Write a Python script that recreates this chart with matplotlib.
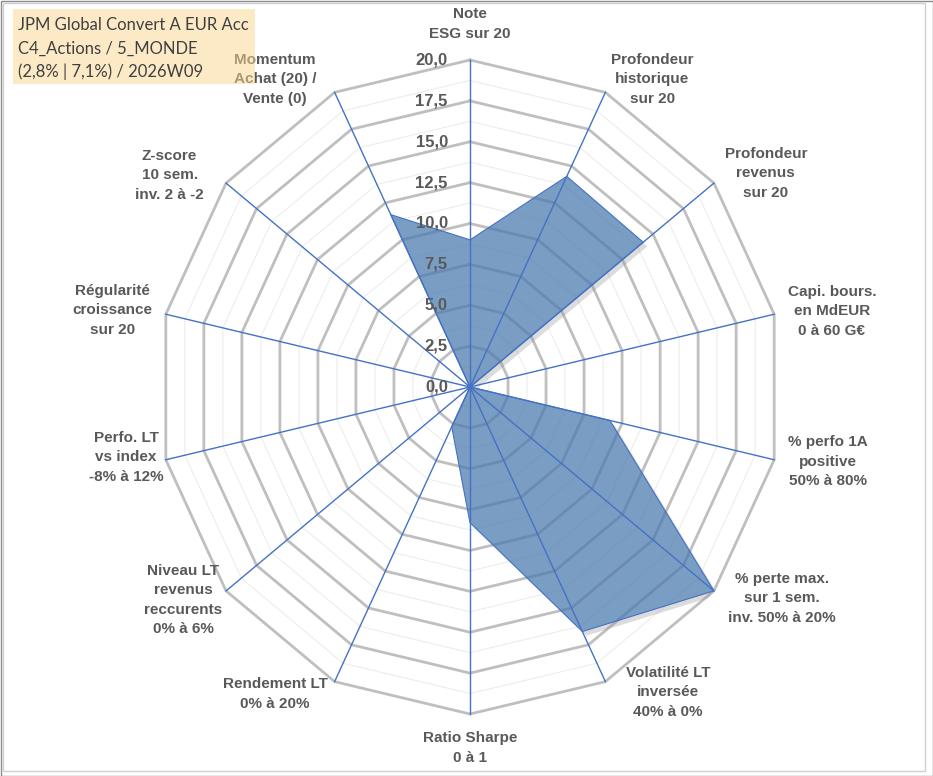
import numpy as np
import matplotlib.pyplot as plt
import matplotlib.patheffects as pe
from matplotlib.patches import Rectangle

# axes of the radar, clockwise from the top
categories = ["Note\nESG sur 20", "Profondeur\nhistorique\nsur 20", "Profondeur\nrevenus\nsur 20",
              "Capi. bours.\nen MdEUR\n0 à 60 G€", "% perfo 1A\npositive\n50% à 80%",
              "% perte max.\nsur 1 sem.\ninv. 50% à 20%", "Volatilité LT\ninversée\n40% à 0%",
              "Ratio Sharpe\n0 à 1", "Rendement LT\n0% à 20%",
              "Niveau LT\nrevenus\nreccurents\n0% à 6%", "Perfo. LT\nvs index\n-8% à 12%",
              "Régularité\ncroissance\nsur 20", "Z-score\n10 sem.\ninv. 2 à -2",
              "Momentum\nAchat (20) /\nVente (0)"]
scores = [9.0, 14.3, 14.2, 0.0, 9.2, 20.0, 16.6, 8.3, 2.7, 0.0, 0.0, 0.0, 0.0, 11.7]
ticks = [0.0, 2.5, 5.0, 7.5, 10.0, 12.5, 15.0, 17.5, 20.0]
title_lines = ["JPM Global Convert A EUR Acc", "C4_Actions / 5_MONDE", "(2,8% | 7,1%) / 2026W09"]

# where the category labels sit (angle in degrees, radius as fraction of max)
label_layout = [(0, 1.11), (31.8, 1.108), (55.4, 1.152), (78.7, 1.183), (101.3, 1.17),
                (122.9, 1.19), (145.8, 1.128), (180, 1.104), (213.6, 1.128), (234.7, 1.127),
                (259, 1.123), (281.6, 1.171), (303.9, 1.16), (326.4, 1.13)]

W, H = 933, 776
rmax = 20.0
n = len(categories)
theta = np.arange(n) * 2 * np.pi / n
theta_c = np.append(theta, theta[0])

fig = plt.figure(figsize=(W / 100, H / 100), dpi=100)
fig.patch.set_facecolor('white')
ax = fig.add_axes([158 / W, 62 / H, 624 / W, 654 / H], projection='polar')
ax.set_aspect('auto')
ax.set_theta_zero_location('N')
ax.set_theta_direction(-1)
ax.set_ylim(0, rmax)
ax.grid(False)
ax.set_xticks([])
ax.set_yticks([])
ax.spines['polar'].set_visible(False)
ax.patch.set_visible(False)

rings = np.arange(1.25, rmax + 0.01, 1.25)
is_major = [abs(r / 2.5 - round(r / 2.5)) < 1e-6 for r in rings]

# polygon grid: thin minor rings every 1.25, thick ones every 2.5
for r, major in zip(rings, is_major):
    ax.plot(theta_c, [r] * (n + 1), color='#BFBFBF' if major else '#EDEDED',
            lw=2.0 if major else 0.8, zorder=1 if major else 0.5, clip_on=False,
            solid_joinstyle='miter')

vals = np.append(scores, scores[0])
poly = ax.fill(theta_c, vals, facecolor='#7A9DC4', zorder=2, lw=0,
               path_effects=[pe.SimplePatchShadow(offset=(3, -3), shadow_rgbFace='#8C8C8C', alpha=0.3),
                             pe.Normal()])[0]

# grid seen through the (semi transparent) series fill
for r, major in zip(rings, is_major):
    ln, = ax.plot(theta_c, [r] * (n + 1), color='#6A8CB3' if major else '#7799C0',
                  lw=2.0 if major else 0.8, zorder=2.5, solid_joinstyle='miter')
    ln.set_clip_path(poly)

ax.plot(theta_c, vals, color='#4472C4', lw=0.8, zorder=3, clip_on=False)

for t in theta:
    ax.plot([t, t], [0, rmax], color='#4472C4', lw=1.0, zorder=4, clip_on=False)

for v in ticks:
    ax.annotate(f"{v:.1f}".replace('.', ','), xy=(0, v), xytext=(-16, 0),
                textcoords='offset points', ha='right', va='center',
                fontsize=12, fontweight='bold', color='#595959',
                family='Liberation Sans', zorder=5, annotation_clip=False)

for lab, (a, f) in zip(categories, label_layout):
    ax.text(np.deg2rad(a), f * rmax, lab, ha='center', va='center', multialignment='center',
            fontsize=11, fontweight='bold', color='#595959', family='Liberation Sans',
            linespacing=1.5, clip_on=False, zorder=5)

# title box (semi transparent, over the chart)
fig.add_artist(Rectangle((13 / W, 1 - 84 / H), 242 / W, 75 / H, transform=fig.transFigure,
                         facecolor='#FBD78E', alpha=0.5, edgecolor='none', zorder=10))
for i, line in enumerate(title_lines):
    fig.text(18 / W, 1 - (25 + 23.5 * i) / H, line, ha='left', va='center', fontsize=12,
             family='Lato', color='#404040', zorder=11)

# chart area frame
fig.add_artist(Rectangle((2.5 / W, 5.5 / H), 922 / W, 768 / H, transform=fig.transFigure,
                         facecolor='none', edgecolor='#D0D0D0', lw=1.0, zorder=12))
fig.add_artist(Rectangle((0.5 / W, 0.5 / H), (W - 1) / W, (H - 1) / H, transform=fig.transFigure,
                         facecolor='none', edgecolor='#8C8C8C', lw=1.0, zorder=12))

fig.savefig('out.png', dpi=100)
